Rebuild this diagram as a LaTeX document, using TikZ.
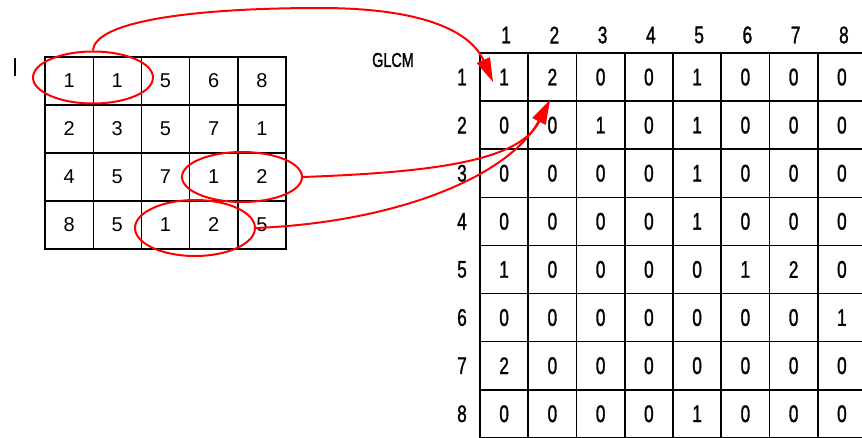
\documentclass[tikz,border=0pt]{standalone}
\usepackage{fontspec}
\setmainfont{Liberation Sans}
\newfontfamily\cnd[FakeStretch=0.72,FakeBold=1.2]{Liberation Sans}
\usetikzlibrary{shapes.geometric,arrows.meta}
\begin{document}
\begin{tikzpicture}[x=1pt,y=-1pt,
  lcell/.style={draw=black, line width=1.4pt, minimum width=48.2pt, minimum height=48pt, inner sep=0pt, font=\fontsize{20}{20}\selectfont},
  rcell/.style={draw=black, line width=1.6pt, minimum width=48.25pt, minimum height=48.1pt, inner sep=0pt, font=\cnd\fontsize{24}{24}\selectfont},
  hdr/.style={font=\cnd\fontsize{24}{24}\selectfont, inner sep=0pt},
  ring/.style={ellipse, draw=red, line width=2pt, minimum width=120pt, inner sep=0pt},
  link/.style={draw=red, line width=2pt, -{Triangle[length=24pt,width=14pt]}},
]
\useasboundingbox (0,0) rectangle (862,437);
% left image
\foreach \r/\vals in {1/{1,1,5,6,8},2/{2,3,5,7,1},3/{4,5,7,1,2},4/{8,5,1,2,5}}{
  \foreach \v [count=\c] in \vals {
    \node[lcell] (L\r-\c) at ({45+48.2*(\c-0.5)},{57+48*(\r-0.5)}) {\v};
  }
}
\node[font=\cnd\fontsize{25}{25}\selectfont, inner sep=0pt] (Ilab) at (15,67) {I};
% GLCM
\foreach \r/\vals in {1/{1,2,0,0,1,0,0,0},2/{0,0,1,0,1,0,0,0},3/{0,0,0,0,1,0,0,0},4/{0,0,0,0,1,0,0,0},5/{1,0,0,0,0,1,2,0},6/{0,0,0,0,0,0,0,1},7/{2,0,0,0,0,0,0,0},8/{0,0,0,0,1,0,0,0}}{
  \foreach \v [count=\c] in \vals {
    \node[rcell] (R\r-\c) at ({480+48.25*(\c-0.5)},{53+48.1*(\r-0.5)}) {\v};
  }
}
\foreach \c in {1,...,8}{
  \node[hdr] (C\c) at ({482+48.25*(\c-0.5)},35) {\c};
  \node[hdr] (W\c) at (462,{53+48.1*(\c-0.5)}) {\c};
}
\node[font=\cnd\fontsize{20}{20}\selectfont, inner sep=0pt] (glcm) at (393,60) {GLCM};
% rings
\node[ring, minimum height=52pt] (E1) at (93,77.5) {};
\node[ring, minimum height=50pt] (E2) at (242,177) {};
\node[ring, minimum height=56pt] (E3) at (195,228) {};
\coordinate (tipA) at (493,82);
\coordinate (tipB) at (550,100);
\draw[link] (E1.north) .. controls (95,20) and (200,8) .. (320,8) .. controls (420,8) and (470,30) .. (tipA);
\draw[link] (E2.east) .. controls (440,172) and (520,160) .. (tipB);
\draw[link] (E3.east) .. controls (400,222) and (510,175) .. (tipB);
\end{tikzpicture}
\end{document}
